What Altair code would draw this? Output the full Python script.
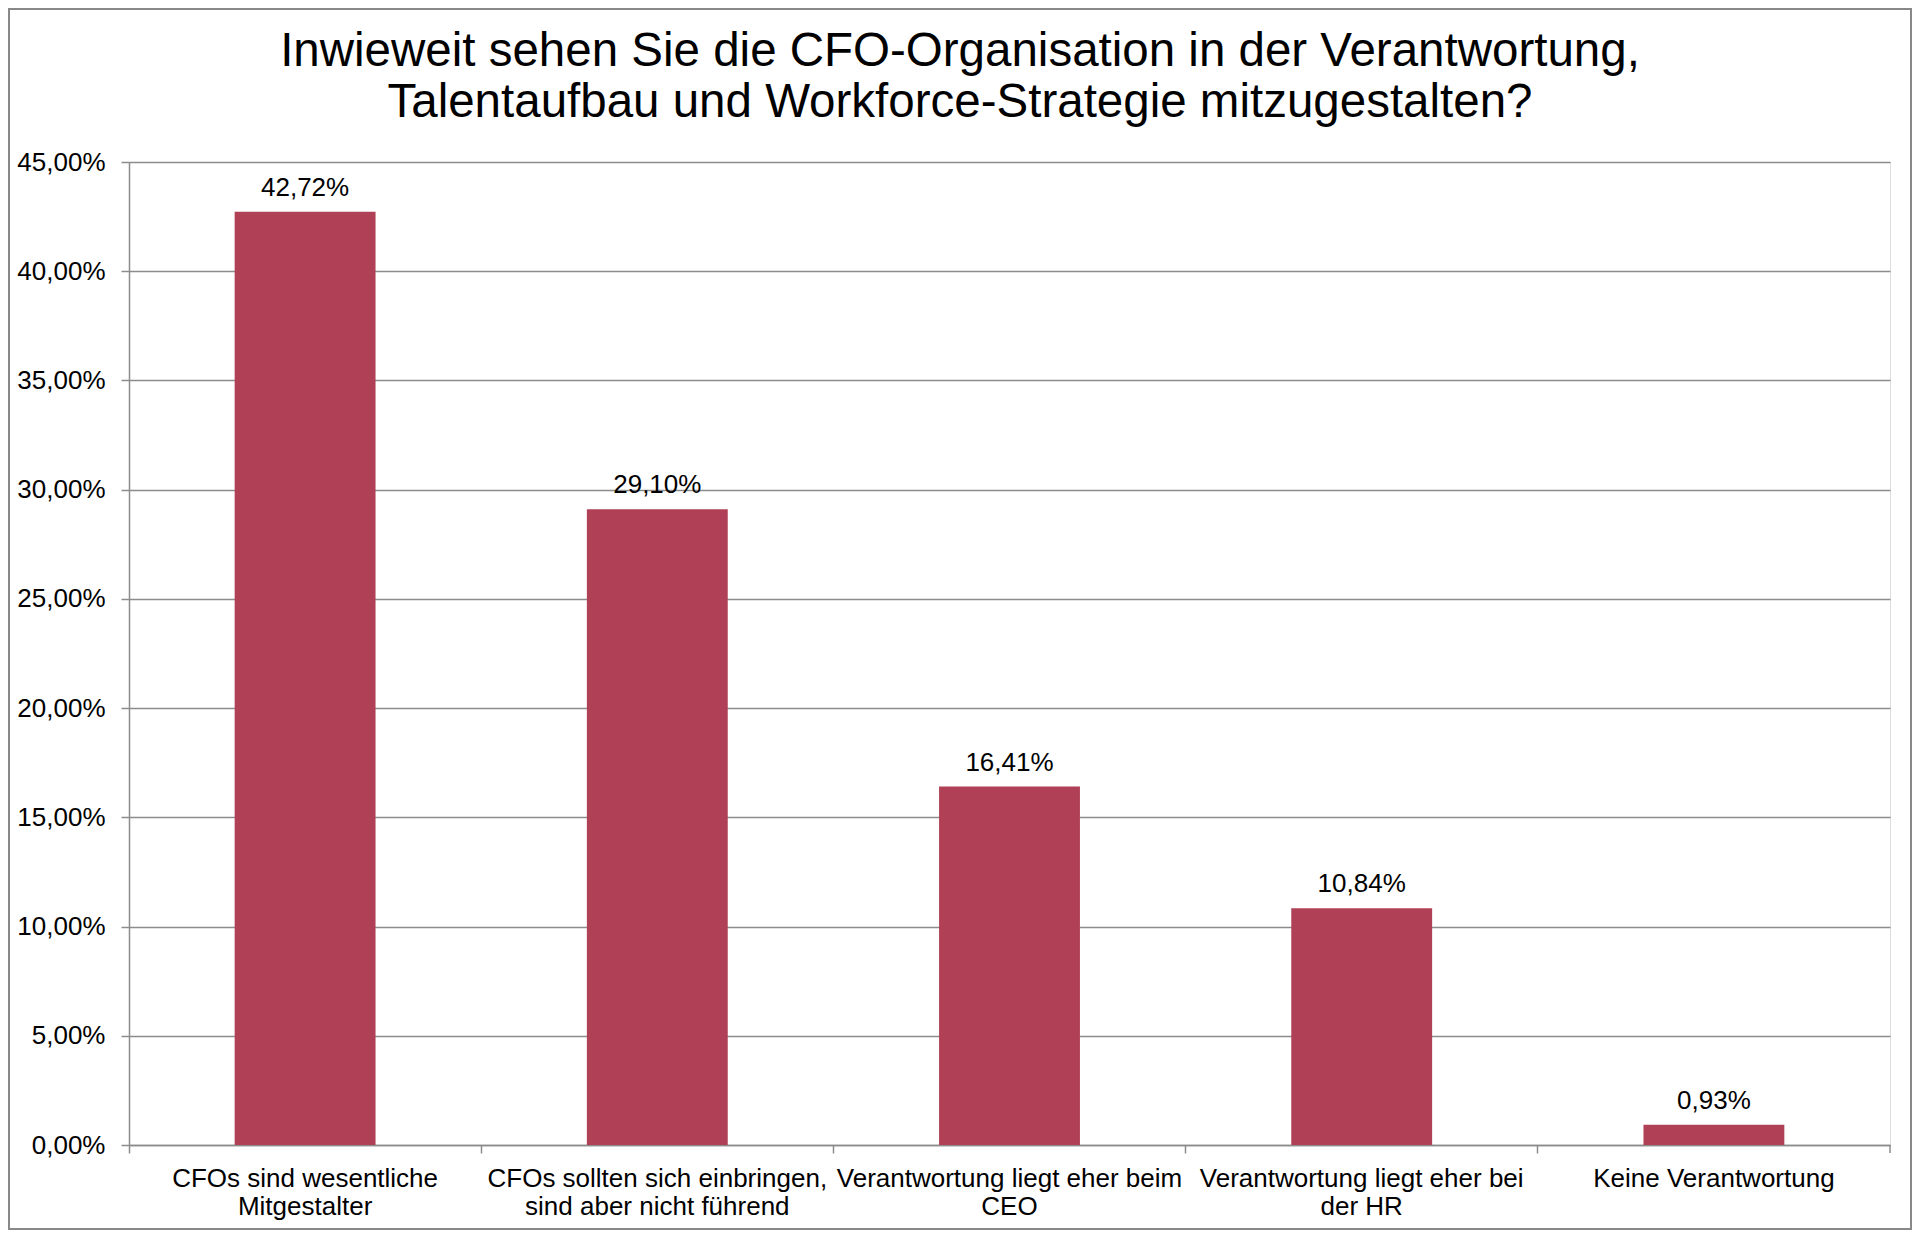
import altair as alt
import pandas as pd

# ---- data ----
category_lines = [
    ["CFOs sind wesentliche", "Mitgestalter"],
    ["CFOs sollten sich einbringen,", "sind aber nicht führend"],
    ["Verantwortung liegt eher beim", "CEO"],
    ["Verantwortung liegt eher bei", "der HR"],
    ["Keine Verantwortung"],
]
values = [42.72, 29.10, 16.41, 10.84, 0.93]
y_ticks = [0, 5, 10, 15, 20, 25, 30, 35, 40, 45]
title_lines = [
    "Inwieweit sehen Sie die CFO-Organisation in der Verantwortung,",
    "Talentaufbau und Workforce-Strategie mitzugestalten?",
]

categories = ["|".join(c) for c in category_lines]
df = pd.DataFrame({"cat": categories, "value": values})

FONT = "Liberation Sans"
GRAY = "#8c8c8c"
BAR = "#B04055"
FS = 26
W, H = 1761, 983
PAD = {"left": 121, "top": 154, "right": 22, "bottom": 85}

x_enc = alt.X(
    "cat:N",
    sort=categories,
    title=None,
    scale=alt.Scale(paddingInner=0, paddingOuter=0),
    axis=alt.Axis(
        labelExpr="split(datum.label, '|')",
        labelAngle=0,
        labelLimit=500,
        labelOverlap=False,
        labelFontSize=FS,
        labelLineHeight=28,
        labelPadding=12,
        labelColor="black",
        labelFont=FONT,
        bandPosition=0,
        tickSize=8,
        tickColor=GRAY,
        tickWidth=1.5,
        domainColor=GRAY,
        domainWidth=1.5,
        grid=False,
    ),
)
y_enc = alt.Y(
    "value:Q",
    title=None,
    scale=alt.Scale(domain=[0, 45], nice=False),
    axis=alt.Axis(
        values=y_ticks,
        labelExpr="replace(format(datum.value, '.2f'), '.', ',') + '%'",
        labelFontSize=FS,
        labelFont=FONT,
        labelColor="black",
        labelPadding=16,
        tickSize=8,
        tickColor=GRAY,
        tickWidth=1.5,
        domainColor=GRAY,
        domainWidth=1.5,
        grid=True,
        gridColor=GRAY,
        gridWidth=1.5,
    ),
)

base = alt.Chart(df)
bars = base.mark_bar(color=BAR, width=alt.RelativeBandSize(0.4)).encode(x=x_enc, y=y_enc)
labels = (
    base.transform_calculate(
        label="replace(format(datum.value, '.2f'), '.', ',') + '%'"
    )
    .mark_text(font=FONT, fontSize=FS, color="black", baseline="alphabetic", dy=-16)
    .encode(x=alt.X("cat:N", sort=categories), y="value:Q", text="label:N")
)

one = alt.Data(values=[{"a": 1}])
end_tick = alt.Chart(one).mark_rule(color=GRAY, strokeWidth=1.5).encode(
    x=alt.value(W), y=alt.value(H), y2=alt.value(H + 8)
)
border = alt.Chart(one).mark_rect(filled=False, stroke="#888888", strokeWidth=2).encode(
    x=alt.value(-PAD["left"] + 1),
    x2=alt.value(W + PAD["right"] - 1),
    y=alt.value(-PAD["top"] + 1),
    y2=alt.value(H + PAD["bottom"] - 1),
)
title = alt.Chart(one).mark_text(
    font=FONT, fontSize=47.5, color="black", align="center",
    baseline="alphabetic", lineHeight=51,
).encode(x=alt.value(831), y=alt.value(-96), text=alt.value(title_lines))

chart = (
    alt.layer(bars, labels, end_tick, border, title)
    .properties(
        width=W,
        height=H,
        padding=PAD,
        autosize=alt.AutoSizeParams(type="none"),
    )
    .configure_view(stroke=None)
    .configure(background="white")
)

chart.save("out.html", embed_options={"renderer": "svg", "actions": False})
